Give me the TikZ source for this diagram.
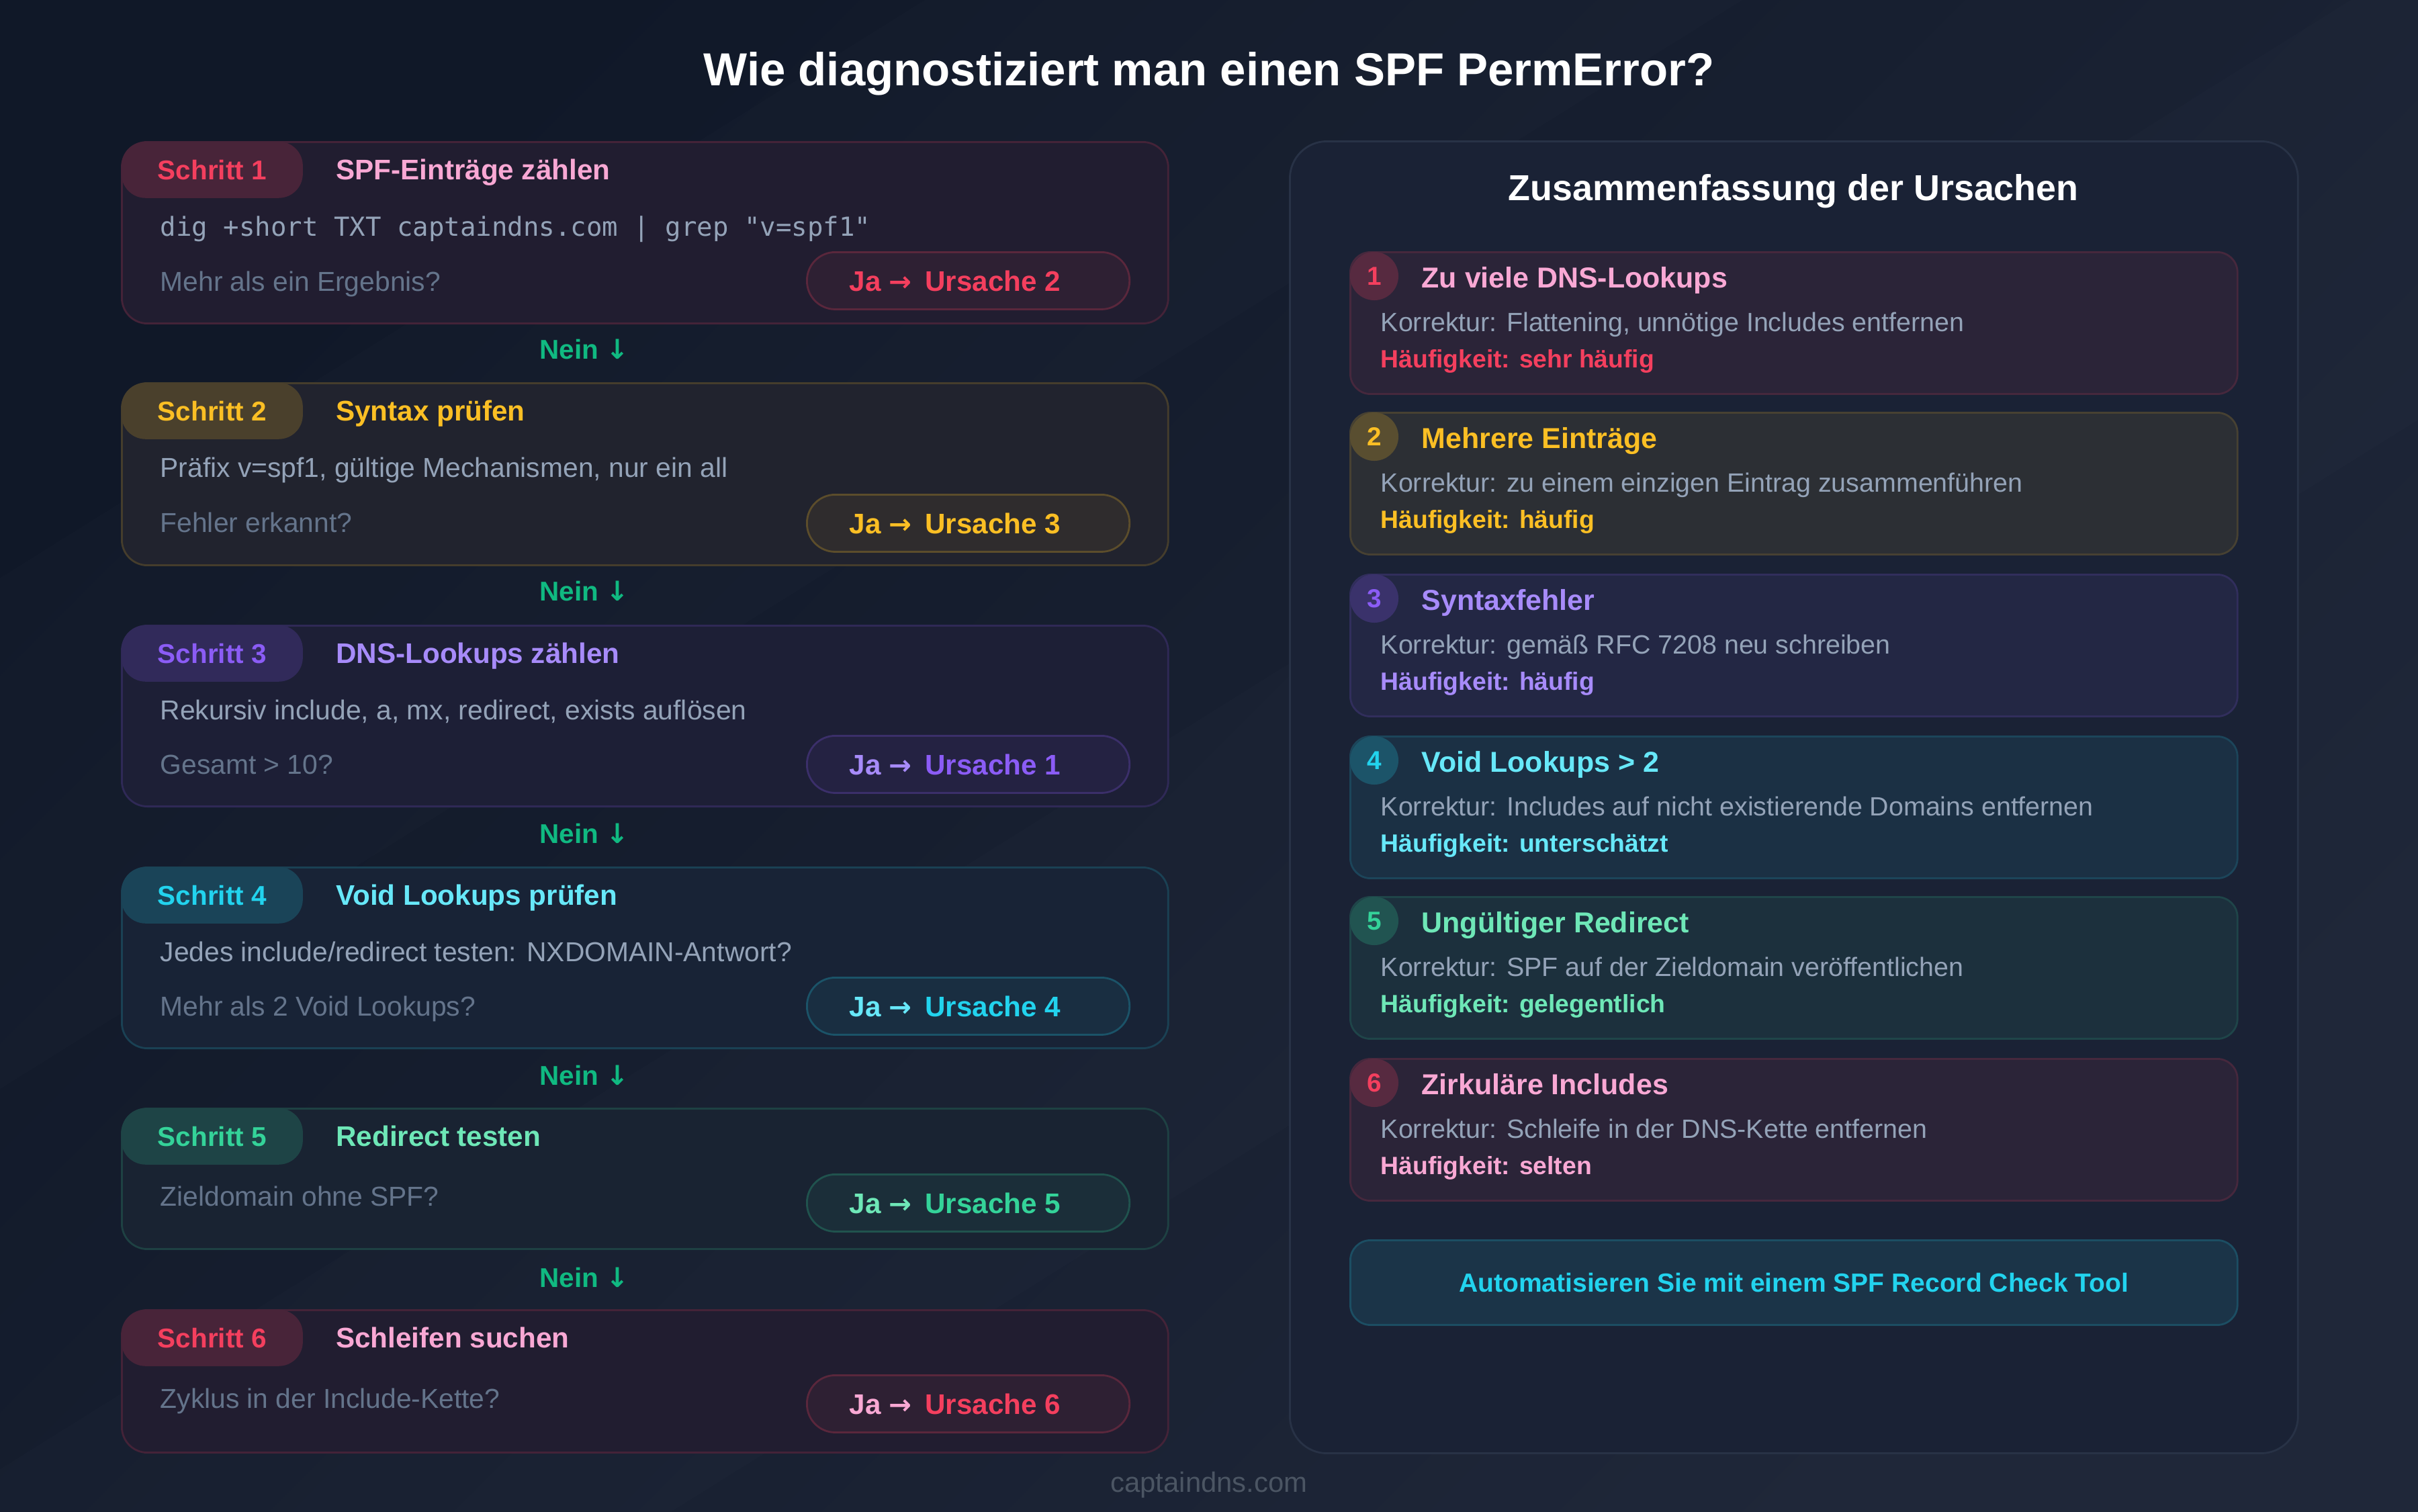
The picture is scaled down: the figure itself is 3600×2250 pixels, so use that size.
\documentclass[tikz,border=0pt]{standalone}
\usepackage{fontspec}
\setmainfont{Liberation Sans}
\setmonofont{DejaVu Sans Mono}
\newfontfamily\arrowfont{DejaVu Sans}
\usetikzlibrary{positioning}

\definecolor{bgA}{HTML}{101828}
\definecolor{bgB}{HTML}{1F2739}
\definecolor{boxbg}{HTML}{181C2E}
\definecolor{panelbg}{HTML}{1A2235}
\definecolor{panelEdge}{HTML}{283246}
\definecolor{txtgray}{HTML}{94A3B8}
\definecolor{txtdim}{HTML}{64748B}
\definecolor{footgray}{HTML}{4B5563}
\definecolor{neingreen}{HTML}{10B981}
\definecolor{cRose}{HTML}{F43F5E}
\definecolor{cRoseLt}{HTML}{F9A8D4}
\definecolor{cAmber}{HTML}{FBBF24}
\definecolor{cAmberLt}{HTML}{FBBF24}
\definecolor{cViolet}{HTML}{8B5CF6}
\definecolor{cVioletLt}{HTML}{A78BFA}
\definecolor{cCyan}{HTML}{22D3EE}
\definecolor{cCyanLt}{HTML}{67E8F9}
\definecolor{cMint}{HTML}{34D399}
\definecolor{cMintLt}{HTML}{6EE7B7}

\newcommand\fsHead{\fontsize{19.6pt}{23pt}\selectfont\bfseries}
\newcommand\fsPanel{\fontsize{15.3pt}{18pt}\selectfont\bfseries}
\newcommand\fsStep{\fontsize{12pt}{14pt}\selectfont\bfseries}
\newcommand\fsBadge{\fontsize{11.5pt}{14pt}\selectfont\bfseries}
\newcommand\fsBody{\fontsize{11.6pt}{14pt}\selectfont}
\newcommand\fsCode{\fontsize{11.1pt}{14pt}\selectfont\ttfamily}
\newcommand\fsNein{\fontsize{11.5pt}{14pt}\selectfont\bfseries}
\newcommand\fsCard{\fontsize{12.2pt}{14pt}\selectfont\bfseries}
\newcommand\fsFix{\fontsize{11.2pt}{14pt}\selectfont}
\newcommand\fsFreq{\fontsize{10.6pt}{13pt}\selectfont\bfseries}
\newcommand\fsNum{\fontsize{11pt}{13pt}\selectfont\bfseries}
\newcommand\fsTool{\fontsize{11.1pt}{13pt}\selectfont\bfseries}
\newcommand\fsFoot{\fontsize{11.9pt}{14pt}\selectfont}
\newcommand\jarrow{{\arrowfont\fontsize{11.5pt}{12pt}\selectfont →}}
\newcommand\neinarrow{{\arrowfont\fontsize{11.5pt}{12pt}\selectfont ↓}}

\begin{document}
\begin{tikzpicture}[x=0.01cm, y=-0.01cm,
    every node/.style={inner sep=0pt},
    stepbox/.style={draw=#1!20!boxbg, fill=#1!4!boxbg, line width=0.8pt,
      rounded corners=0.38cm, minimum width=15.57cm, anchor=north west},
    badge/.style={fill=#1!22!boxbg, text=#1, rounded corners=0.36cm,
      minimum width=2.7cm, minimum height=0.84cm, anchor=north west, font=\fsBadge},
    steptitle/.style={text=#1Lt, font=\fsStep},
    code/.style={anchor=mid west, text=txtgray, font=\fsCode},
    detail/.style={anchor=mid west, text=txtgray, font=\fsBody},
    ask/.style={anchor=mid west, text=txtdim, font=\fsBody},
    jabox/.style={draw=#1!30!boxbg, fill=#1!10!boxbg, line width=0.8pt,
      rounded corners=0.42cm, minimum width=4.8cm, minimum height=0.85cm, anchor=north west},
    jatext/.style={font=\fsStep},
    nein/.style={anchor=mid, text=neingreen, font=\fsNein},
    card/.style={draw=#1!20!panelbg, fill=#1!8!panelbg, line width=0.8pt,
      rounded corners=0.3cm, minimum width=13.2cm, minimum height=2.11cm, anchor=north west},
    num/.style={circle, fill=#1!28!panelbg, text=#1, minimum size=0.72cm, font=\fsNum},
    cardtitle/.style={anchor=mid west, text=#1Lt, font=\fsCard},
    fix/.style={anchor=mid west, text=txtgray, font=\fsFix},
    freq/.style={anchor=mid west, text=#1, font=\fsFreq}]

  % background
  \useasboundingbox (0,0) rectangle (3600,2250);
  \shade[shading=axis, left color=bgA, right color=bgB, shading angle=45] (0,0) rectangle (3600,2250);
  \begin{scope}
    \clip (0,0) rectangle (3600,2250);
    \fill[white, opacity=0.012] (1377,0) -- (2594,0) -- (-1006,2250) -- (-2223,2250) -- cycle;
    \fill[white, opacity=0.012] (3500,0) -- (4600,0) -- (1000,2250) -- (-100,2250) -- cycle;
  \end{scope}

  \node[anchor=base, text=white, font=\fsHead] (title) at (1800,127) {Wie diagnostiziert man einen SPF PermError?};

  % Schritt 1
  \node[stepbox=cRose, minimum height=2.7cm] (s1) at (180,210) {};
  \node[badge=cRose] (b1) at (180,210) {Schritt 1};
  \node[steptitle=cRose, base right=0.48cm of b1.base east] (t1) {SPF-Einträge zählen};
  \node[code] (l1) at (238,342) {dig +short TXT captaindns.com | grep "v=spf1"};
  \node[ask] (q1) at (238,424) {Mehr als ein Ergebnis?};
  \node[jabox=cRose] (j1) at (1200,374) {};
  \node[jatext, right=0.64cm of j1.west] (u1) {\textcolor{cRose}{Ja \jarrow}\hspace{0.2cm}\textcolor{cRose}{Ursache 2}};
  \node[nein] (n1) at (870,525) {Nein \neinarrow};

  % Schritt 2
  \node[stepbox=cAmber, minimum height=2.71cm] (s2) at (180,569) {};
  \node[badge=cAmber] (b2) at (180,569) {Schritt 2};
  \node[steptitle=cAmber, base right=0.48cm of b2.base east] (t2) {Syntax prüfen};
  \node[detail] (l2) at (238,701) {Präfix v=spf1, gültige Mechanismen, nur ein all};
  \node[ask] (q2) at (238,783) {Fehler erkannt?};
  \node[jabox=cAmber] (j2) at (1200,735) {};
  \node[jatext, right=0.64cm of j2.west] (u2) {\textcolor{cAmber}{Ja \jarrow}\hspace{0.2cm}\textcolor{cAmber}{Ursache 3}};
  \node[nein] (n2) at (870,885) {Nein \neinarrow};

  % Schritt 3
  \node[stepbox=cViolet, minimum height=2.69cm] (s3) at (180,930) {};
  \node[badge=cViolet] (b3) at (180,930) {Schritt 3};
  \node[steptitle=cViolet, base right=0.48cm of b3.base east] (t3) {DNS-Lookups zählen};
  \node[detail] (l3) at (238,1062) {Rekursiv include, a, mx, redirect, exists auflösen};
  \node[ask] (q3) at (238,1143) {Gesamt > 10?};
  \node[jabox=cViolet] (j3) at (1200,1094) {};
  \node[jatext, right=0.64cm of j3.west] (u3) {\textcolor{cVioletLt}{Ja \jarrow}\hspace{0.2cm}\textcolor{cViolet}{Ursache 1}};
  \node[nein] (n3) at (870,1246) {Nein \neinarrow};

  % Schritt 4
  \node[stepbox=cCyan, minimum height=2.69cm] (s4) at (180,1290) {};
  \node[badge=cCyan] (b4) at (180,1290) {Schritt 4};
  \node[steptitle=cCyan, base right=0.48cm of b4.base east] (t4) {Void Lookups prüfen};
  \node[detail] (l4) at (238,1422) {Jedes include/redirect testen: NXDOMAIN-Antwort?};
  \node[ask] (q4) at (238,1503) {Mehr als 2 Void Lookups?};
  \node[jabox=cCyan] (j4) at (1200,1454) {};
  \node[jatext, right=0.64cm of j4.west] (u4) {\textcolor{cCyanLt}{Ja \jarrow}\hspace{0.2cm}\textcolor{cCyan}{Ursache 4}};
  \node[nein] (n4) at (870,1606) {Nein \neinarrow};

  % Schritt 5
  \node[stepbox=cMint, minimum height=2.09cm] (s5) at (180,1649) {};
  \node[badge=cMint] (b5) at (180,1649) {Schritt 5};
  \node[steptitle=cMint, base right=0.48cm of b5.base east] (t5) {Redirect testen};
  \node[ask] (q5) at (238,1786) {Zieldomain ohne SPF?};
  \node[jabox=cMint] (j5) at (1200,1747) {};
  \node[jatext, right=0.64cm of j5.west] (u5) {\textcolor{cMintLt}{Ja \jarrow}\hspace{0.2cm}\textcolor{cMint}{Ursache 5}};
  \node[nein] (n5) at (870,1907) {Nein \neinarrow};

  % Schritt 6
  \node[stepbox=cRose, minimum height=2.12cm] (s6) at (180,1949) {};
  \node[badge=cRose] (b6) at (180,1949) {Schritt 6};
  \node[steptitle=cRose, base right=0.48cm of b6.base east] (t6) {Schleifen suchen};
  \node[ask] (q6) at (238,2087) {Zyklus in der Include-Kette?};
  \node[jabox=cRose] (j6) at (1200,2046) {};
  \node[jatext, right=0.64cm of j6.west] (u6) {\textcolor{cRoseLt}{Ja \jarrow}\hspace{0.2cm}\textcolor{cRose}{Ursache 6}};

  % Zusammenfassung
  \node[draw=panelEdge, fill=panelbg, line width=0.8pt, rounded corners=0.55cm,
    minimum width=15cm, minimum height=19.52cm, anchor=north west] (panel) at (1919,209) {};
  \node[anchor=base, text=white, font=\fsPanel] (ptitle) at (2670,298) {Zusammenfassung der Ursachen};

  \node[card=cRose] (c1) at (2009,374) {};
  \node[num=cRose] (k1) at (2046,411) {1};
  \node[cardtitle=cRose] (h1) at (2116,419) {Zu viele DNS-Lookups};
  \node[fix] (f1) at (2055,484) {Korrektur: Flattening, unnötige Includes entfernen};
  \node[freq=cRose] (r1) at (2055,538) {Häufigkeit: sehr häufig};

  \node[card=cAmber] (c2) at (2009,613) {};
  \node[num=cAmber] (k2) at (2046,650) {2};
  \node[cardtitle=cAmber] (h2) at (2116,658) {Mehrere Einträge};
  \node[fix] (f2) at (2055,723) {Korrektur: zu einem einzigen Eintrag zusammenführen};
  \node[freq=cAmber] (r2) at (2055,777) {Häufigkeit: häufig};

  \node[card=cViolet] (c3) at (2009,854) {};
  \node[num=cViolet] (k3) at (2046,891) {3};
  \node[cardtitle=cViolet] (h3) at (2116,899) {Syntaxfehler};
  \node[fix] (f3) at (2055,964) {Korrektur: gemäß RFC 7208 neu schreiben};
  \node[freq=cVioletLt] (r3) at (2055,1018) {Häufigkeit: häufig};

  \node[card=cCyan] (c4) at (2009,1095) {};
  \node[num=cCyan] (k4) at (2046,1132) {4};
  \node[cardtitle=cCyan] (h4) at (2116,1140) {Void Lookups > 2};
  \node[fix] (f4) at (2055,1205) {Korrektur: Includes auf nicht existierende Domains entfernen};
  \node[freq=cCyanLt] (r4) at (2055,1259) {Häufigkeit: unterschätzt};

  \node[card=cMint] (c5) at (2009,1334) {};
  \node[num=cMint] (k5) at (2046,1371) {5};
  \node[cardtitle=cMint] (h5) at (2116,1379) {Ungültiger Redirect};
  \node[fix] (f5) at (2055,1444) {Korrektur: SPF auf der Zieldomain veröffentlichen};
  \node[freq=cMintLt] (r5) at (2055,1498) {Häufigkeit: gelegentlich};

  \node[card=cRose] (c6) at (2009,1575) {};
  \node[num=cRose] (k6) at (2046,1612) {6};
  \node[cardtitle=cRose] (h6) at (2116,1620) {Zirkuläre Includes};
  \node[fix] (f6) at (2055,1685) {Korrektur: Schleife in der DNS-Kette entfernen};
  \node[freq=cRoseLt] (r6) at (2055,1739) {Häufigkeit: selten};

  \node[draw=cCyan!25!panelbg, fill=cCyan!10!panelbg, line width=0.8pt, rounded corners=0.3cm,
    minimum width=13.2cm, minimum height=1.26cm, anchor=north west, text=cCyan, font=\fsTool]
    (tool) at (2009,1845) {Automatisieren Sie mit einem SPF Record Check Tool};

  \node[anchor=mid, text=footgray, font=\fsFoot] (foot) at (1800,2212) {captaindns.com};
\end{tikzpicture}
\end{document}
